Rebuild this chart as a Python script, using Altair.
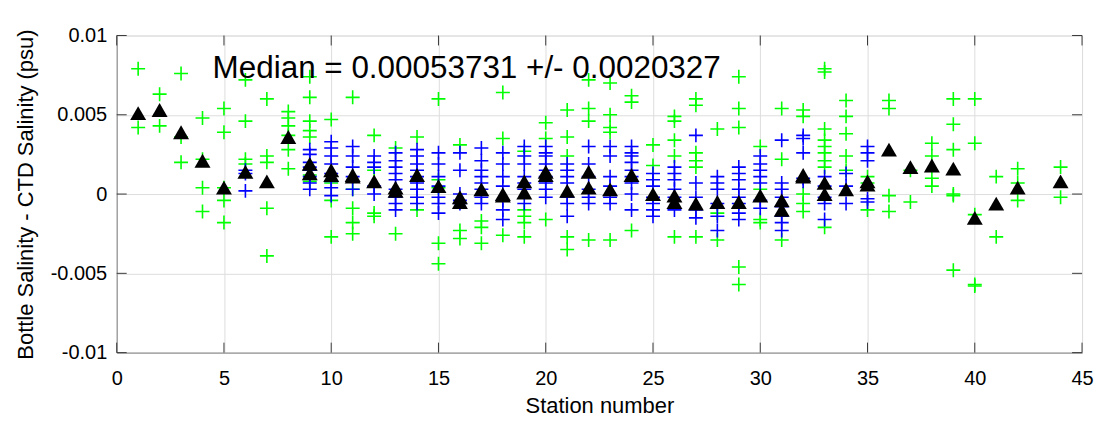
import altair as alt
import pandas as pd

# ---------------- data ----------------
green_stations = [1, 2, 3, 4, 5, 6, 7, 8, 9, 10, 11, 12, 13, 14, 15, 16, 17, 18, 19, 20, 21, 22,
                  23, 24, 25, 26, 27, 28, 29, 30, 31, 32, 33, 34, 35, 36, 37, 38, 39, 40, 41, 42, 44]
green_values = [
    [0.0079, 0.0042],
    [0.0063, 0.0043],
    [0.0076, 0.0036, 0.0020],
    [0.0048, 0.0022, 0.0004, -0.0011],
    [0.0054, 0.0039, 0.0004, -0.0004, -0.0018],
    [0.0072, 0.0046, 0.0022, 0.0019],
    [0.0060, 0.0024, 0.0020, -0.0009, -0.0039],
    [0.0052, 0.0048, 0.0043, 0.0037, 0.0028, 0.0016],
    [0.0074, 0.0061, 0.0046, 0.0040, 0.0036, 0.0012, 0.0008],
    [0.0047, 0.0007, -0.0004, -0.0027],
    [0.0061, 0.0003, -0.0009, -0.0018, -0.0025],
    [0.0037, 0.0015, -0.0012, -0.0014],
    [0.0029, -0.0025],
    [0.0036, -0.0010],
    [0.0060, 0.0009, 0.0004, -0.0031, -0.0044],
    [0.0031, -0.0023, -0.0028],
    [-0.0017, -0.0021, -0.0031],
    [0.0064, 0.0035, -0.0026],
    [0.0027, -0.0010, -0.0014, -0.0018, -0.0027],
    [0.0045, 0.0035, -0.0016],
    [0.0053, 0.0036, 0.0024, -0.0027, -0.0035],
    [0.0072, 0.0054, 0.0046, -0.0029],
    [0.0070, 0.0050, 0.0042, 0.0039, -0.0029],
    [0.0062, 0.0058, -0.0023],
    [0.0031, 0.0018],
    [0.0049, 0.0046, 0.0034, 0.0024, -0.0027],
    [0.0060, 0.0056, 0.0026, 0.0021, 0.0017, -0.0027],
    [0.0041, -0.0012, -0.0029],
    [0.0074, 0.0054, 0.0042, -0.0046, -0.0057],
    [0.0030, 0.0003, -0.0016, -0.0018],
    [0.0054, 0.0022, -0.0029],
    [0.0053, 0.0049, 0.0000, -0.0006, -0.0011],
    [0.0079, 0.0077, 0.0041, 0.0034, 0.0030, 0.0026, 0.0021, 0.0017, -0.0021],
    [0.0059, 0.0049, 0.0038, 0.0024, 0.0015],
    [0.0011, 0.0007, -0.0010],
    [0.0059, 0.0054, -0.0001, -0.0011],
    [0.0015, -0.0005],
    [0.0032, 0.0024, 0.0010, 0.0005],
    [0.0060, 0.0044, 0.0028, 0.0000, -0.0001, -0.0048],
    [0.0060, 0.0032, -0.0013, -0.0057, -0.0058],
    [0.0011, -0.0027],
    [0.0016, 0.0007, -0.0004],
    [0.0017, -0.0002],
]

blue_stations = [6, 9, 10, 11, 12, 13, 14, 15, 16, 17, 18, 19, 20, 21, 22, 23, 24, 25, 26, 27,
                 28, 29, 30, 31, 32, 33, 34, 35]
blue_values = [
    [0.0015, 0.0013, 0.0002],
    [0.0028, 0.0025, 0.0020, 0.0017, 0.0015, 0.0011, 0.0007, 0.0003],
    [0.0033, 0.0029, 0.0024, 0.0019, 0.0013, 0.0008, 0.0004, -0.0001],
    [0.0030, 0.0024, 0.0017, 0.0011, 0.0003],
    [0.0024, 0.0020, 0.0017, 0.0005, 0.0000],
    [0.0026, 0.0021, 0.0017, 0.0013, 0.0009, 0.0003, -0.0002, -0.0006, -0.0010],
    [0.0028, 0.0024, 0.0019, 0.0015, 0.0011, 0.0007, 0.0003, -0.0002, -0.0006],
    [0.0026, 0.0019, 0.0011, 0.0005, -0.0002, -0.0006, -0.0012],
    [0.0026, 0.0015, 0.0000, -0.0004, -0.0006],
    [0.0029, 0.0021, 0.0015, 0.0011, 0.0007, 0.0003, -0.0002, -0.0006],
    [0.0026, 0.0019, 0.0011, 0.0005, -0.0004, -0.0010, -0.0016],
    [0.0030, 0.0024, 0.0019, 0.0011, 0.0007, 0.0003, -0.0006],
    [0.0030, 0.0026, 0.0024, 0.0019, 0.0015, 0.0011, 0.0007, 0.0003, -0.0002],
    [0.0019, 0.0015, 0.0011, 0.0007, -0.0002, -0.0006, -0.0014],
    [0.0030, 0.0019, 0.0011, 0.0003, -0.0002, -0.0006],
    [0.0030, 0.0024, 0.0011, 0.0005, -0.0002, -0.0006],
    [0.0030, 0.0026, 0.0024, 0.0020, 0.0015, 0.0011, 0.0007, 0.0000, -0.0010],
    [0.0013, 0.0009, 0.0005, -0.0002, -0.0006, -0.0010, -0.0014],
    [0.0017, 0.0013, 0.0009, 0.0003, -0.0002, -0.0010],
    [0.0037, 0.0007, -0.0002, -0.0010, -0.0015],
    [0.0011, 0.0007, 0.0003, -0.0006, -0.0014, -0.0023],
    [0.0017, 0.0013, 0.0009, 0.0003, -0.0002, -0.0006, -0.0012, -0.0016],
    [0.0024, 0.0019, 0.0015, 0.0011, 0.0007, -0.0004, -0.0009],
    [0.0034, 0.0007, 0.0003, -0.0002, -0.0008, -0.0014, -0.0018, -0.0023],
    [0.0037, 0.0035, 0.0026, 0.0010, 0.0008],
    [0.0011, 0.0005, -0.0002, -0.0006, -0.0016],
    [0.0013, 0.0005, -0.0006],
    [0.0030, 0.0026, 0.0021, -0.0003, -0.0005],
]

median_stations = [1, 2, 3, 4, 5, 6, 7, 8, 9, 9, 10, 10, 11, 11, 12, 13, 13, 14, 15, 16, 16,
                   17, 18, 18, 19, 19, 20, 20, 21, 22, 22, 23, 24, 25, 26, 26, 27, 28, 29, 30,
                   31, 31, 32, 32, 33, 33, 34, 35, 35, 36, 37, 38, 39, 40, 41, 42, 44]
median_values = [0.0051, 0.0053, 0.0039, 0.0021, 0.0004, 0.0014, 0.0008, 0.0036, 0.0019, 0.0013,
                  0.0015, 0.0012, 0.0012, 0.0011, 0.0008, 0.0004, 0.0002, 0.0012, 0.0005, -0.0002,
                  -0.0005, 0.0003, 0.0000, -0.0001, 0.0008, 0.0001, 0.0014, 0.0012, 0.0002, 0.0014,
                  0.0004, 0.0003, 0.0012, 0.0000, -0.0001, -0.0005, -0.0006, -0.0005, -0.0005,
                  -0.0001, -0.0004, -0.0010, 0.0012, 0.0011, 0.0007, 0.0000, 0.0003, 0.0008,
                  0.0006, 0.0028, 0.0017, 0.0018, 0.0016, -0.0015, -0.0006, 0.0004, 0.0008]

x_ticks = [0, 5, 10, 15, 20, 25, 30, 35, 40, 45]
y_ticks = [-0.01, -0.005, 0, 0.005, 0.01]
annotation = "Median = 0.00053731 +/- 0.0020327"

# ---------------- tables ----------------
def long_table(stations, values):
    rows = []
    for s, vals in zip(stations, values):
        for v in vals:
            rows.append({"station": s, "value": v})
    return pd.DataFrame(rows)

green_df = long_table(green_stations, green_values)
blue_df = long_table(blue_stations, blue_values)
median_df = pd.DataFrame({"station": median_stations, "value": median_values})
xt_df = pd.DataFrame({"station": x_ticks})
yt_df = pd.DataFrame({"value": y_ticks})
ann_df = pd.DataFrame({"station": [4.47], "value": [0.0079], "label": [annotation]})

W, H = 968, 318
FONT = "Liberation Sans"
AX = "#262626"

xs = alt.Scale(domain=[0, 45], nice=False, zero=False)
ys = alt.Scale(domain=[-0.01, 0.01], nice=False, zero=False)

X = alt.X("station:Q", scale=xs,
          axis=alt.Axis(values=x_ticks, grid=True, ticks=False, title="Station number",
                        labelFontSize=20, titleFontSize=22, labelPadding=16, titlePadding=7,
                        titleFontWeight=400, format="d", labelFlush=False))
Y = alt.Y("value:Q", scale=ys,
          axis=alt.Axis(values=y_ticks, grid=True, ticks=False,
                        title="Bottle Salinity - CTD Salinity (psu)",
                        labelFontSize=20, titleFontSize=22, labelPadding=10, titlePadding=13,
                        titleFontWeight=400, format="~g", labelFlush=False,
                        labelExpr="replace(datum.label, '\u2212', '-')"))

plus = "M-1,0L1,0M0,-1L0,1"

green = alt.Chart(green_df).mark_point(shape=plus, size=196, strokeWidth=1.6, filled=False,
                                       color="#00FF00", opacity=1).encode(x=X, y=Y)
blue = alt.Chart(blue_df).mark_point(shape=plus, size=196, strokeWidth=1.6, filled=False,
                                     color="#0000FF", opacity=1).encode(x=X, y=Y)
med = alt.Chart(median_df).mark_point(shape="triangle-up", size=256, filled=True,
                                      color="black", opacity=1).encode(x=X, y=Y)

tick_col = "#3a3a3a"
xt_bottom = alt.Chart(xt_df).mark_rule(color=tick_col, strokeWidth=1).encode(
    x=X, y=alt.value(H), y2=alt.value(H - 10))
xt_top = alt.Chart(xt_df).mark_rule(color=tick_col, strokeWidth=1).encode(
    x=X, y=alt.value(0), y2=alt.value(10))
yt_left = alt.Chart(yt_df).mark_rule(color=tick_col, strokeWidth=1).encode(
    y=Y, x=alt.value(0), x2=alt.value(10))
yt_right = alt.Chart(yt_df).mark_rule(color=tick_col, strokeWidth=1).encode(
    y=Y, x=alt.value(W), x2=alt.value(W - 10))

text = alt.Chart(ann_df).mark_text(align="left", baseline="middle", fontSize=31.5,
                                   font=FONT, color="black").encode(x=X, y=Y, text="label:N")

chart = alt.layer(green, blue, med, xt_bottom, xt_top, yt_left, yt_right, text).properties(
    width=W, height=H,
    autosize=alt.AutoSizeParams(type="none"),
    padding={"left": 109, "top": 27, "right": 12, "bottom": 68},
).configure_view(
    stroke="#555555", strokeWidth=1
).configure_axis(
    labelFont=FONT, titleFont=FONT, labelColor=AX, titleColor=AX,
    domainColor="#555555", gridColor="#E3E3E3", gridWidth=1
).configure(background="white")

chart.save("out.html", embed_options={"renderer": "svg", "actions": False})
